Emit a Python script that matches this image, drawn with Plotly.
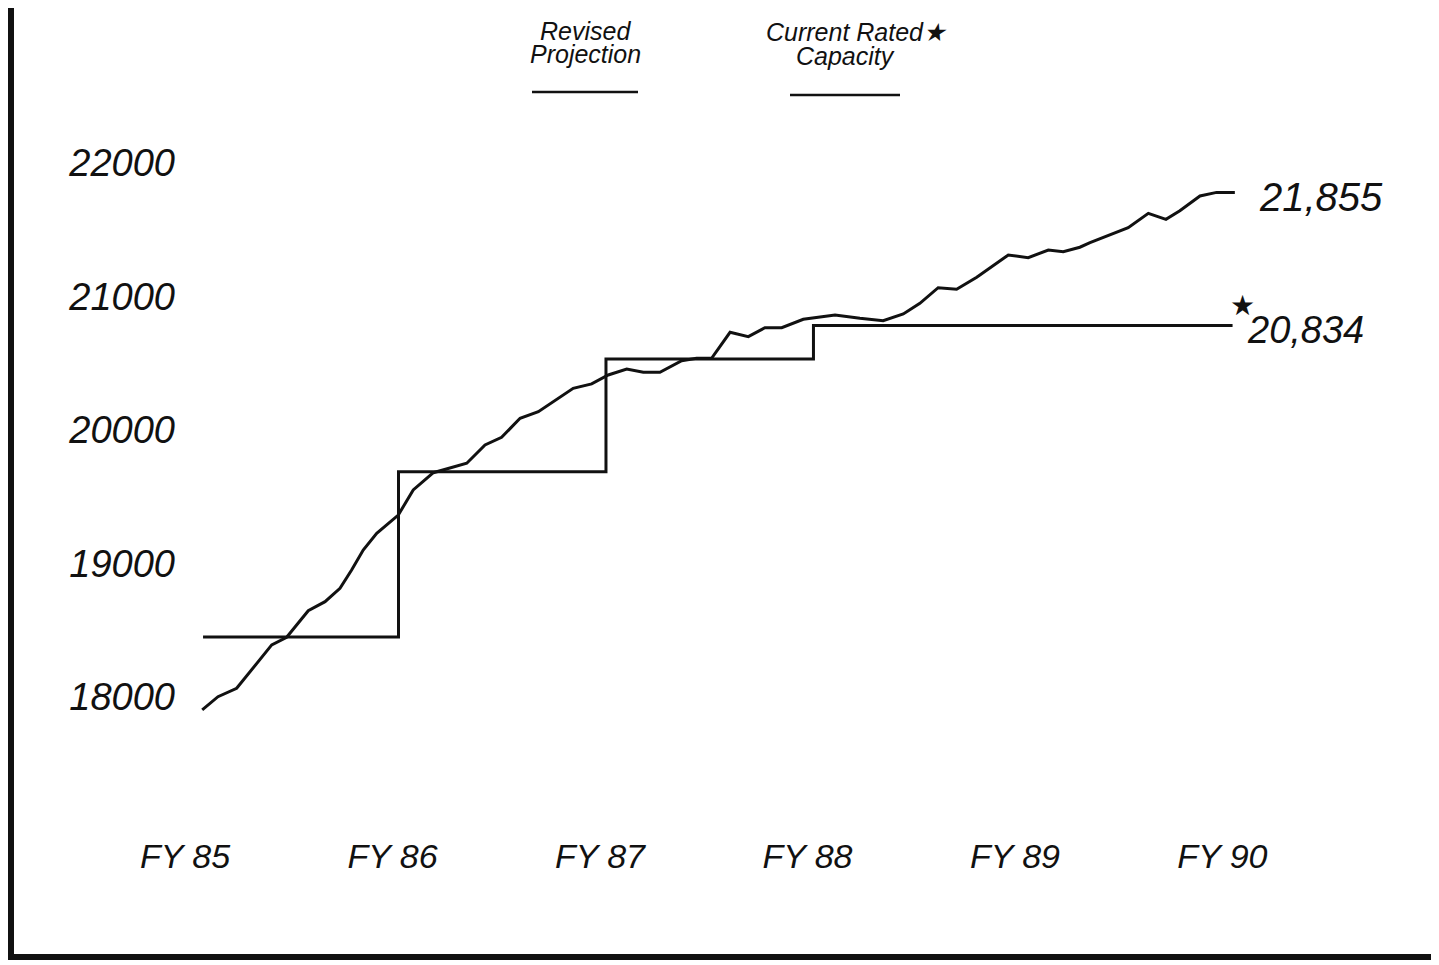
import plotly.graph_objects as go

# ---- data ----
proj_x = [85.054, 85.130, 85.220, 85.389, 85.461, 85.565, 85.646, 85.718, 85.774, 85.830,
          85.895, 85.975, 85.999, 86.071, 86.168, 86.329, 86.417, 86.497, 86.586, 86.674,
          86.842, 86.931, 87.011, 87.100, 87.180, 87.260, 87.365, 87.437, 87.509, 87.598,
          87.686, 87.766, 87.847, 87.951, 88.104, 88.224, 88.336, 88.433, 88.513, 88.601,
          88.690, 88.787, 88.939, 89.035, 89.132, 89.204, 89.284, 89.333, 89.517, 89.614,
          89.699, 89.766, 89.863, 89.943, 90.031]
proj_y = [17903, 18002, 18065, 18390, 18447, 18646, 18714, 18814, 18951, 19101,
          19226, 19326, 19363, 19551, 19680, 19751, 19888, 19945, 20088, 20137,
          20312, 20345, 20412, 20457, 20432, 20432, 20519, 20537, 20537, 20732,
          20699, 20766, 20766, 20829, 20861, 20837, 20819, 20869, 20949, 21066,
          21054, 21144, 21311, 21291, 21348, 21336, 21369, 21403, 21515, 21623,
          21578, 21643, 21753, 21780, 21780]

cap_x = [85.058, 86.0, 87.0, 88.0, 90.02]
cap_y = [18449, 19688, 20532, 20783, 20783]

x_tick_vals = [85, 86, 87, 88, 89, 90]
x_tick_text = ["FY 85", "FY 86", "FY 87", "FY 88", "FY 89", "FY 90"]
y_tick_vals = [18000, 19000, 20000, 21000, 22000]
y_tick_text = ["18000", "19000", "20000", "21000", "22000"]

proj_label = "21,855"
cap_label = "20,834"
legend_proj = ["Revised", "Projection"]
legend_cap = ["Current Rated\u2605", "Capacity"]

# ---- layout geometry (page has an 8px body margin) ----
OFF = 8
W, H = 1439 - OFF, 965 - OFF
L, T = 185 - OFF, 100 - OFF
R = W - (1400 - OFF)
B = H - (833 - OFF)
PW, PH = W - L - R, H - T - B


def px(x):
    return (x - OFF - L) / PW


def py(y):
    return 1 - (y - OFF - T) / PH


FONT = "Liberation Sans"
INK = "#111111"

fig = go.Figure()
fig.add_trace(go.Scatter(x=proj_x, y=proj_y, mode="lines",
                         line=dict(color=INK, width=3), name="Revised Projection",
                         showlegend=False))
fig.add_trace(go.Scatter(x=cap_x, y=cap_y, mode="lines", line_shape="hv",
                         line=dict(color=INK, width=3), name="Current Rated Capacity",
                         showlegend=False))

annots = []
# end labels
annots.append(dict(x=proj_x[-1], y=proj_y[-1], xref="x", yref="y", text=proj_label,
                   showarrow=False, xanchor="left", yanchor="middle", xshift=22, yshift=-5,
                   font=dict(family=FONT, size=40, color=INK, style="italic")))
annots.append(dict(x=cap_x[-1], y=cap_y[-1], xref="x", yref="y", text=cap_label,
                   showarrow=False, xanchor="left", yanchor="middle", xshift=12, yshift=-5,
                   font=dict(family=FONT, size=38, color=INK, style="italic")))
annots.append(dict(x=cap_x[-1], y=cap_y[-1], xref="x", yref="y", text="\u2605",
                   showarrow=False, xanchor="center", yanchor="middle", xshift=10, yshift=20,
                   font=dict(family="DejaVu Sans", size=28, color=INK)))
# legend texts
for txt, cx, cy in [(legend_proj[0], 585, 31), (legend_proj[1], 585, 54),
                    (legend_cap[0], 857, 32), (legend_cap[1], 845, 56)]:
    annots.append(dict(x=px(cx), y=py(cy), xref="paper", yref="paper", text=txt,
                       showarrow=False, xanchor="center", yanchor="middle",
                       font=dict(family=FONT, size=25, color=INK, style="italic")))

shapes = []
# legend line samples
shapes.append(dict(type="line", xref="paper", yref="paper", x0=px(532), x1=px(638),
                   y0=py(92), y1=py(92), line=dict(color=INK, width=2.5)))
shapes.append(dict(type="line", xref="paper", yref="paper", x0=px(790), x1=px(900),
                   y0=py(95), y1=py(95), line=dict(color=INK, width=2.5)))
# page frame
shapes.append(dict(type="line", xref="paper", yref="paper", x0=px(11), x1=px(11),
                   y0=py(8), y1=py(959), line=dict(color=INK, width=6)))
shapes.append(dict(type="line", xref="paper", yref="paper", x0=px(8), x1=px(1439),
                   y0=py(957), y1=py(957), line=dict(color=INK, width=6)))
shapes.append(dict(type="line", xref="paper", yref="paper", x0=px(1436), x1=px(1436),
                   y0=py(778), y1=py(959), line=dict(color=INK, width=3)))

fig.update_layout(
    width=W, height=H,
    margin=dict(l=L, r=R, t=T, b=B),
    paper_bgcolor="white", plot_bgcolor="white",
    showlegend=False,
    annotations=annots, shapes=shapes,
    xaxis=dict(range=[84.971, 90.827], tickvals=x_tick_vals, ticktext=x_tick_text,
               showgrid=False, zeroline=False, showline=False, ticks="",
               ticklabelshift=-6,
               tickfont=dict(family=FONT, size=34, color=INK, style="italic")),
    yaxis=dict(range=[16981, 22472], tickvals=y_tick_vals, ticktext=y_tick_text,
               showgrid=False, zeroline=False, showline=False, ticks="",
               ticklabelstandoff=9,
               tickfont=dict(family=FONT, size=38, color=INK, style="italic")),
)

fig.write_html("out.html")
